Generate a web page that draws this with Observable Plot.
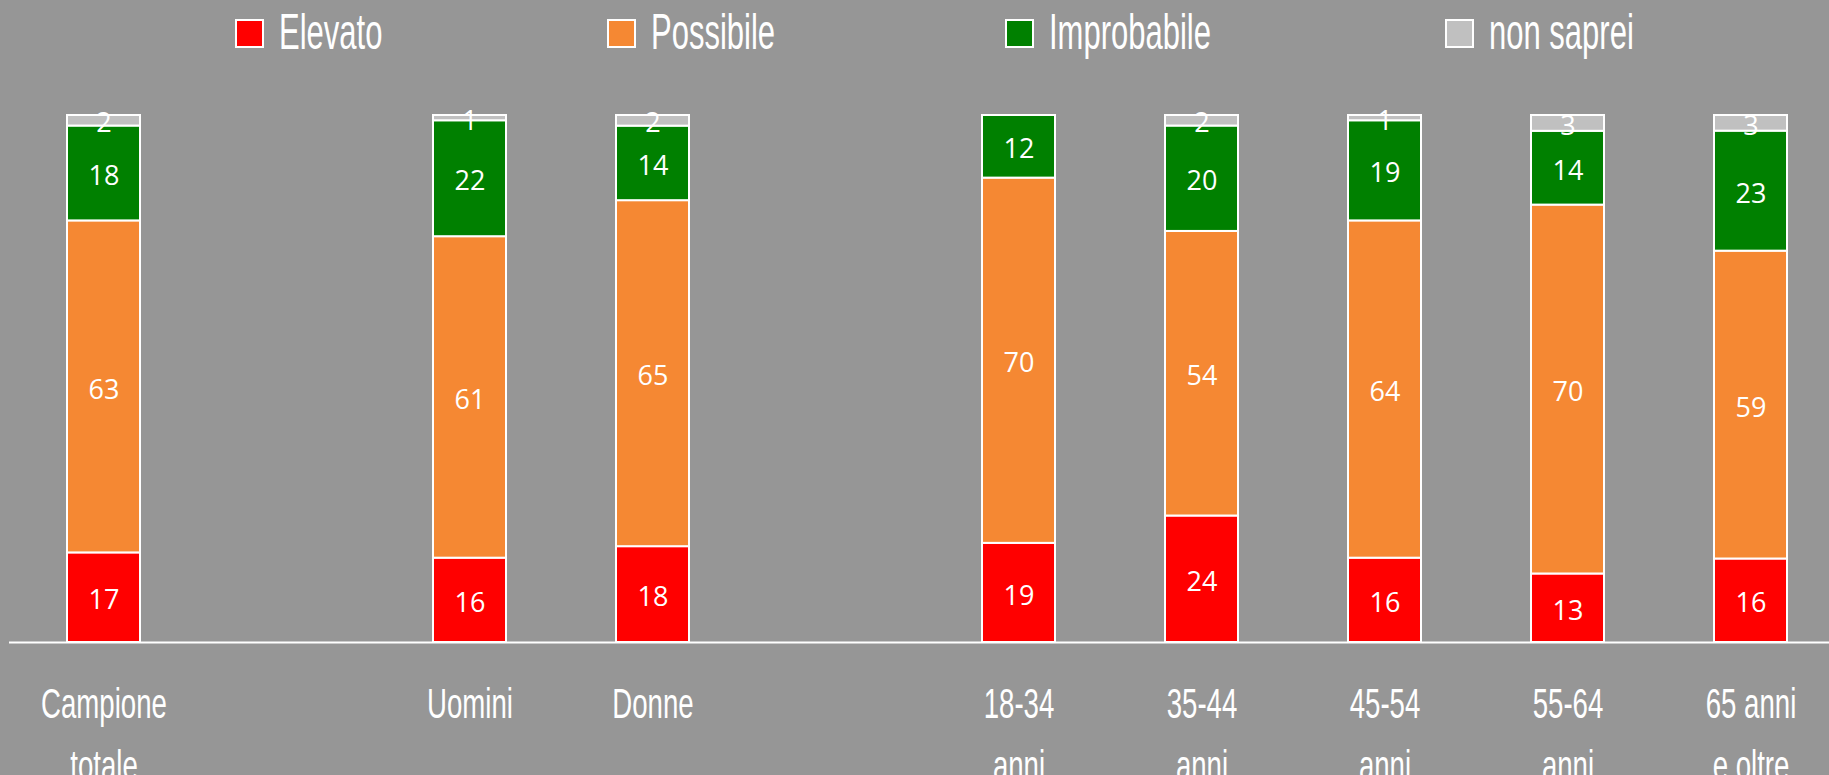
<!DOCTYPE html>
<html>
<head>
<meta charset="utf-8">
<script src="https://cdn.jsdelivr.net/npm/d3@7"></script>
<script src="https://cdn.jsdelivr.net/npm/@observablehq/plot@0.6"></script>
<style>
  html, body { margin: 0; padding: 0; background: #969696; overflow: hidden; }
  #wrap { width: 1829px; height: 775px; position: relative; }
  #legend { position: relative; width: 1829px; height: 70px; }
  .sw { position: absolute; top: 19px; width: 25px; height: 25px; border: 2px solid #fff; }
  .lt { position: absolute; top: 7px; font: 50px/50px "Liberation Sans", Arial, sans-serif; color: #fff;
        transform: scaleX(0.62); transform-origin: left center; white-space: nowrap; }
  svg { display: block; }
</style>
</head>
<body>
<div id="wrap">
  <div id="legend"></div>
  <div id="chart"></div>
</div>
<script>
// ---- data ----
const groups = ["Campione\ntotale", "Uomini", "Donne", "18-34\nanni", "35-44\nanni", "45-54\nanni", "55-64\nanni", "65 anni\ne oltre"];
const xSlots = ["Campione\ntotale", "gap1", "Uomini", "Donne", "gap2", "18-34\nanni", "35-44\nanni", "45-54\nanni", "55-64\nanni", "65 anni\ne oltre"];
const series = ["Elevato", "Possibile", "Improbabile", "non saprei"];
const elevato    = [17, 16, 18, 19, 24, 16, 13, 16];
const possibile  = [63, 61, 65, 70, 54, 64, 70, 59];
const improbabile= [18, 22, 14, 12, 20, 19, 14, 23];
const nonSaprei  = [2, 1, 2, 0, 2, 1, 3, 3];
const colors = ["#FF0000", "#F58833", "#008000", "#C0C0C0"];

const seriesValues = [elevato, possibile, improbabile, nonSaprei];
const data = [];
series.forEach((s, si) => {
  groups.forEach((g, gi) => {
    data.push({group: g, series: s, value: seriesValues[si][gi]});
  });
});
const shown = data.filter(d => d.value > 0);

// ---- legend ----
const legendX = [235, 607, 1005, 1445];
const legend = document.getElementById("legend");
series.forEach((s, i) => {
  const sw = document.createElement("div");
  sw.className = "sw";
  sw.style.left = legendX[i] + "px";
  sw.style.background = colors[i];
  legend.appendChild(sw);
  const t = document.createElement("div");
  t.className = "lt";
  t.style.left = (legendX[i] + 44) + "px";
  t.textContent = s;
  legend.appendChild(t);
});

// ---- chart ----
const chart = Plot.plot({
  width: 1829,
  height: 705,
  marginTop: 45,
  marginBottom: 133,
  marginLeft: 9,
  marginRight: 0,
  style: {background: "transparent", color: "white", overflow: "visible"},
  x: {domain: xSlots, range: [64.25, 1790.25], paddingInner: 0.6, paddingOuter: 0, align: 0.5, label: null},
  y: {domain: [0, 1], axis: null},
  color: {domain: series, range: colors},
  marks: [
    Plot.barY(shown, Plot.stackY({offset: "normalize", x: "group", y: "value", fill: "series", stroke: "white", strokeWidth: 2})),
    Plot.text(shown, Plot.stackY({offset: "normalize", x: "group", y: "value", text: d => String(d.value),
      fill: "white", fontSize: 27, fontFamily: "'Open Sans', sans-serif", dy: 3})),
    Plot.ruleY([0], {stroke: "white", strokeWidth: 2}),
    Plot.axisX({tickSize: 0, tickPadding: 31, fontSize: 42.5, fontFamily: "'Liberation Sans', Arial, sans-serif",
      lineHeight: 1.46, fill: "white", tickFormat: d => d.startsWith("gap") ? "" : d})
  ]
});
document.getElementById("chart").appendChild(chart);

// condense axis labels horizontally
chart.querySelectorAll('g[aria-label="x-axis tick label"] text').forEach(t => {
  const tr = t.getAttribute("transform") || "";
  t.setAttribute("transform", tr + " scale(0.65,1)");
});
</script>
</body>
</html>
